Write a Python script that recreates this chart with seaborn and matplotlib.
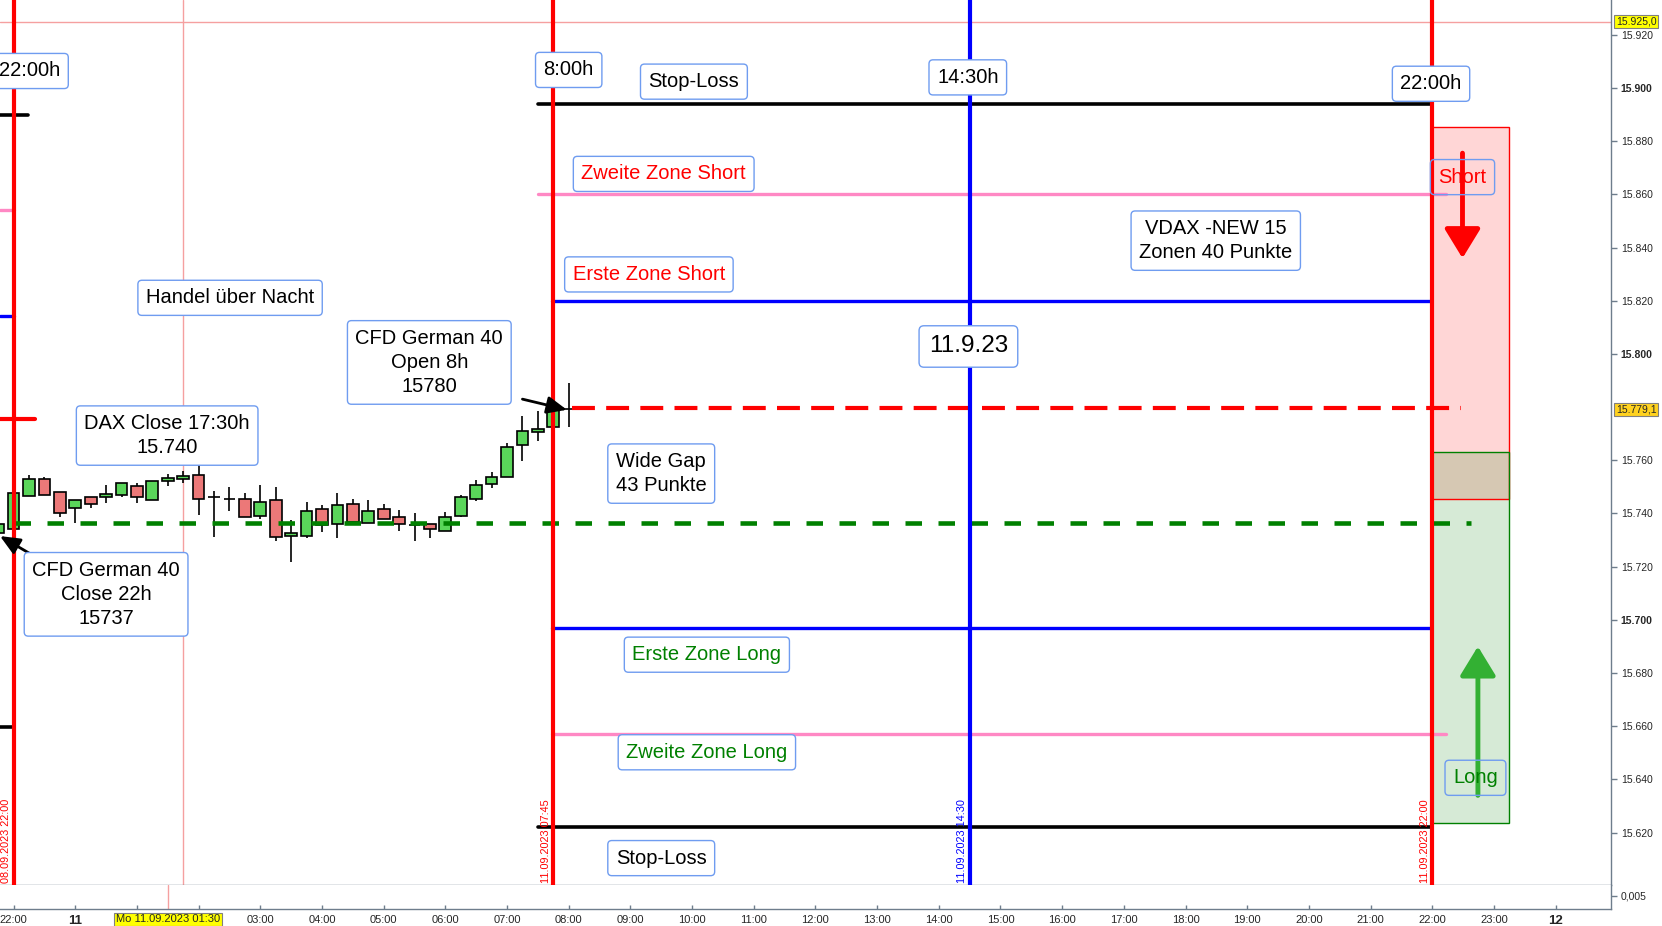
import numpy as np
import matplotlib
matplotlib.use("Agg")
from matplotlib import pyplot as plt
from matplotlib import transforms
import seaborn as sns

# 15-min candles, x = hours since Mo 11.09.2023 00:00 (axis tick "22:00" sits at -1)
candle_x = np.arange(-1.25, 8.01, 0.25)
opens = [15732.5, 15734.1, 15746.6, 15752.9, 15748.0, 15742.1, 15746.1, 15746.3,
         15746.9, 15750.3, 15745.0, 15752.4, 15753.1, 15754.4, 15746.1, 15745.4,
         15745.4, 15739.1, 15745.1, 15731.6, 15731.6, 15741.6, 15735.9, 15743.5,
         15736.6, 15741.6, 15738.6, 15735.6, 15735.9, 15733.6, 15738.9, 15745.4,
         15751.1, 15753.9, 15765.7, 15770.7, 15772.4, 15779.3]
highs = [15737.0, 15748.0, 15754.4, 15753.7, 15748.0, 15745.1, 15746.1, 15750.6,
         15751.4, 15751.4, 15752.2, 15754.9, 15755.9, 15758.9, 15748.6, 15749.9,
         15747.6, 15750.6, 15749.9, 15737.4, 15744.4, 15743.1, 15747.6, 15745.6,
         15744.9, 15743.4, 15741.4, 15740.1, 15735.9, 15740.4, 15747.0, 15752.6,
         15755.7, 15766.4, 15776.5, 15778.5, 15780.0, 15789.0]
lows = [15731.0, 15733.5, 15746.6, 15746.9, 15738.6, 15736.6, 15742.0, 15744.1,
        15746.1, 15744.1, 15745.0, 15750.4, 15751.4, 15739.4, 15731.3, 15741.1,
        15738.6, 15738.1, 15729.8, 15721.6, 15730.6, 15732.9, 15730.6, 15736.9,
        15736.6, 15738.1, 15733.6, 15729.8, 15730.6, 15733.6, 15738.5, 15744.6,
        15749.4, 15753.9, 15759.9, 15767.4, 15772.4, 15772.4]
closes = [15736.1, 15747.6, 15752.9, 15746.9, 15740.1, 15745.1, 15743.5, 15747.3,
          15751.4, 15746.1, 15752.2, 15753.4, 15754.0, 15745.4, 15746.1, 15745.4,
          15738.6, 15744.5, 15731.1, 15732.6, 15741.1, 15735.6, 15743.1, 15736.9,
          15741.1, 15738.1, 15735.9, 15735.6, 15734.1, 15738.6, 15746.1, 15750.6,
          15753.7, 15764.9, 15770.9, 15771.9, 15780.0, 15779.3]

# zone levels of the day (price, start hour, end hour)
stop_loss_top = (15894, 7.51, 21.98)
zone2_short = (15860, 7.51, 22.23)
zone1_short = (15820, 7.73, 21.98)
open_8h = (15779.5, 8.06, 22.46)
close_22h = (15736.5, -1.0, 22.63)
zone1_long = (15697, 7.73, 21.98)
zone2_long = (15657, 7.73, 22.23)
stop_loss_bottom = (15622, 7.51, 21.98)

# remnants of the previous day's levels at the left edge
prev_black_top = (15889.8, -1.22, -0.76)
prev_pink = (15854.2, -1.22, -1.0)
prev_blue = (15814.3, -1.22, -1.0)
prev_red = (15775.7, -1.22, -0.66)
prev_black_bottom = (15659.8, -1.22, -1.0)

# vertical time markers
vline_hours = [-1.0, 7.75, 14.5, 22.0]
vline_texts = ["08.09.2023 22:00", "11.09.2023 07:45", "11.09.2023 14:30", "11.09.2023 22:00"]
vline_colors = ["#ff0000", "#ff0000", "#0000ff", "#ff0000"]

# trade zones (x0, x1, low, high)
short_zone = (22.0, 23.25, 15745.5, 15885.5)
long_zone = (22.0, 23.25, 15623.5, 15763.2)

# 15.780 is hidden behind the last-price marker
price_ticks = [p for p in range(15620, 15921, 20) if p != 15780]
hour_ticks = list(range(-1, 25))
hour_labels = ["22:00", "11", "", ""] + [f"{h:02d}:00" for h in range(3, 24)] + ["12"]
crosshair_price = 15925.0
crosshair_hour = 1.5
last_price = 15779.1

gray = "#6e7d8c"
box_edge = "#6f9cf0"

sns.set_theme(style="white")
plt.rcParams["font.family"] = ["Liberation Sans", "DejaVu Sans"]

fig = plt.figure(figsize=(16.62, 9.26), dpi=100)
ax = fig.add_axes([0, 0.0446, 0.9694, 0.9554])
ax2 = fig.add_axes([0, 0.0183, 0.9694, 0.0263], sharex=ax)

# crosshair
ax.axhline(crosshair_price, color="#f5a0a0", lw=1, zorder=1)
ax.axvline(crosshair_hour + 0.25, color="#f5a0a0", lw=1, zorder=1)
ax2.axvline(crosshair_hour, color="#f5a0a0", lw=1, zorder=1)

# candles
o = np.array(opens)
c = np.array(closes)
body_colors = ["#5ad65a" if cc >= oo else "#ec7878" for oo, cc in zip(o, c)]
ax.vlines(candle_x, lows, highs, color="black", lw=1.2, zorder=3)
ax.bar(candle_x, np.maximum(np.abs(c - o), 0.05), bottom=np.minimum(o, c), width=0.19,
       color=body_colors, edgecolor="black", linewidth=1.2, zorder=4)


def level(lv, color, lw, **kw):
    sns.lineplot(x=[lv[1], lv[2]], y=[lv[0], lv[0]], color=color, lw=lw, ax=ax,
                 zorder=kw.pop("zorder", 4.5), **kw)


level(stop_loss_top, "black", 2.6)
level(stop_loss_bottom, "black", 2.6)
level(zone2_short, "#ff88c4", 2.4)
level(zone2_long, "#ff88c4", 2.4)
level(zone1_short, "#0000ff", 2.4)
level(zone1_long, "#0000ff", 2.4)
level(open_8h, "#ff0000", 3.0, dashes=(5.5, 2.7))
level(close_22h, "#008000", 3.3, dashes=(3.6, 3.6))
level(prev_black_top, "black", 2.6)
level(prev_pink, "#ff88c4", 2.4)
level(prev_blue, "#0000ff", 2.4)
level(prev_red, "#ff0000", 3.0)
level(prev_black_bottom, "black", 2.6)

# zones
for (x0, x1, lo, hi), col in [(short_zone, "#ff0000"), (long_zone, "#008000")]:
    ax.add_patch(plt.Rectangle((x0, lo), x1 - x0, hi - lo, facecolor=col, alpha=0.16,
                               edgecolor="none", zorder=2))
    ax.add_patch(plt.Rectangle((x0, lo), x1 - x0, hi - lo, facecolor="none",
                               edgecolor=col, lw=1, zorder=2.1))

# vertical markers
for h, txt, col in zip(vline_hours, vline_texts, vline_colors):
    ax.axvline(h, color=col, lw=3, zorder=5)
    ax.text(h - 0.12, 15601, txt, rotation=90, ha="center", va="bottom",
            color=col, fontsize=7.8, zorder=6)

# arrows
ax.annotate("", xy=(22.49, 15836), xytext=(22.49, 15875.5),
            arrowprops=dict(arrowstyle="-|>,head_length=0.9,head_width=0.55", lw=3.5,
                            color="#ff0000", mutation_scale=20, shrinkA=0, shrinkB=0), zorder=7)
ax.annotate("", xy=(22.74, 15690), xytext=(22.74, 15634),
            arrowprops=dict(arrowstyle="-|>,head_length=0.9,head_width=0.55", lw=3.5,
                            color="#33b033", mutation_scale=20, shrinkA=0, shrinkB=0), zorder=7)
black_arrow = dict(arrowstyle="-|>,head_length=0.8,head_width=0.35", lw=2, color="black",
                   mutation_scale=15, shrinkA=0, shrinkB=0)
ax.annotate("", xy=(-1.22, 15731.5), xytext=(-0.52, 15722), arrowprops=black_arrow, zorder=7)
ax.annotate("", xy=(7.97, 15779), xytext=(7.25, 15783), arrowprops=black_arrow, zorder=7)

# text boxes
labels = [
    ("22:00h", -0.74, 15906.4, "black", 14.5, True),
    ("8:00h", 8.0, 15906.8, "black", 14.5, True),
    ("Stop-Loss", 10.03, 15902.4, "black", 14.5, True),
    ("14:30h", 14.47, 15904.0, "black", 14.5, True),
    ("22:00h", 21.98, 15901.6, "black", 14.5, True),
    ("Zweite Zone Short", 9.54, 15867.7, "#ff0000", 14.5, True),
    ("Erste Zone Short", 9.3, 15829.9, "#ff0000", 14.5, True),
    ("VDAX -NEW 15\nZonen 40 Punkte", 18.49, 15842.6, "black", 14.5, True),
    ("Short", 22.49, 15866.5, "#ff0000", 14.5, False),
    ("Handel über Nacht", 2.51, 15821.1, "black", 14.5, True),
    ("CFD German 40\nOpen 8h\n15780", 5.74, 15796.8, "black", 14.5, True),
    ("11.9.23", 14.48, 15802.8, "black", 17.5, True),
    ("DAX Close 17:30h\n15.740", 1.49, 15769.3, "black", 14.5, True),
    ("Wide Gap\n43 Punkte", 9.5, 15755.0, "black", 14.5, True),
    ("CFD German 40\nClose 22h\n15737", 0.5, 15709.6, "black", 14.5, True),
    ("Erste Zone Long", 10.24, 15686.9, "#008000", 14.5, True),
    ("Zweite Zone Long", 10.24, 15650.2, "#008000", 14.5, True),
    ("Long", 22.7, 15640.6, "#008000", 14.5, False),
    ("Stop-Loss", 9.5, 15610.4, "black", 14.5, True),
]
for txt, x, y, col, fs, filled in labels:
    ax.text(x, y, txt, ha="center", va="center", multialignment="center", color=col,
            fontsize=fs, linespacing=1.35, zorder=8,
            bbox=dict(boxstyle="round,pad=0.4,rounding_size=0.2",
                      fc="white" if filled else "none", ec=box_edge, lw=1))

# axes cosmetics
ax.set_xlim(-1.22, 24.9)
ax.set_ylim(15600.4, 15933.1)
for a in (ax, ax2):
    a.set_facecolor("white")
    for side in ("left", "top"):
        a.spines[side].set_visible(False)
    for side in ("right", "bottom"):
        a.spines[side].set_color(gray)
        a.spines[side].set_linewidth(1)

ax.yaxis.tick_right()
ax.set_yticks(price_ticks)
ax.set_yticklabels([f"{p / 1000:.3f}" for p in price_ticks])
for t, p in zip(ax.get_yticklabels(), price_ticks):
    if p % 100 == 0:
        t.set_fontweight("bold")
        t.set_fontsize(8.5)
ax.tick_params(axis="y", right=True, left=False, length=4, width=1, color=gray,
               pad=3, labelsize=7.5)
ax.tick_params(axis="x", bottom=False, labelbottom=False)
ax.set_xlabel("")
ax.set_ylabel("")

yax_tr = transforms.blended_transform_factory(ax.transAxes, ax.transData)
ax.text(1.003, crosshair_price, "15.925,0", transform=yax_tr, ha="left", va="center",
        fontsize=7.5, zorder=9, clip_on=False,
        bbox=dict(boxstyle="square,pad=0.15", fc="#ffff00", ec="#808080", lw=0.8))
ax.text(1.003, last_price, "15.779,1", transform=yax_tr, ha="left", va="center",
        fontsize=7.5, zorder=9, clip_on=False,
        bbox=dict(boxstyle="square,pad=0.15", fc="#ffd21f", ec="#808080", lw=0.8))

ax2.set_ylim(0, 0.009)
ax2.yaxis.tick_right()
ax2.set_yticks([0.005])
ax2.set_yticklabels(["0,005"])
ax2.tick_params(axis="y", right=True, left=False, length=4, width=1, color=gray,
                pad=3, labelsize=7.5)
ax2.set_xticks(hour_ticks)
ax2.set_xticklabels(hour_labels)
ax2.tick_params(axis="x", bottom=True, direction="in", length=3, width=1, color=gray,
                pad=4, labelsize=8)
for t, lab in zip(ax2.get_xticklabels(), hour_labels):
    if lab in ("11", "12"):
        t.set_fontweight("bold")
        t.set_fontsize(9.5)
xax_tr = transforms.blended_transform_factory(ax2.transData, ax2.transAxes)
ax2.text(crosshair_hour, -0.42, "Mo 11.09.2023 01:30", transform=xax_tr, ha="center",
         va="center", fontsize=8, clip_on=False,
         bbox=dict(boxstyle="square,pad=0.15", fc="#ffff00", ec="#808080", lw=0.8))

fig.savefig("out.png", dpi=100)
